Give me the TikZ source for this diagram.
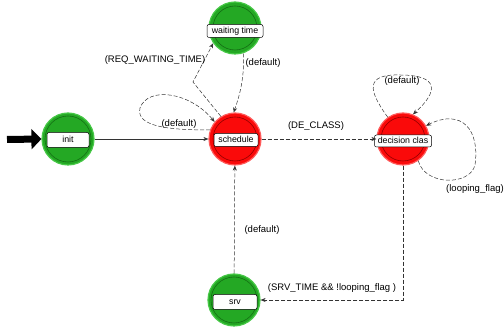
\documentclass[tikz,border=0pt]{standalone}
\usepackage{fontspec}
\setmainfont{Liberation Sans}
\usetikzlibrary{arrows.meta}
\definecolor{gfill}{RGB}{36,168,36}
\definecolor{gedge}{RGB}{70,200,70}
\definecolor{gring}{RGB}{20,110,20}
\definecolor{rfill}{RGB}{250,10,10}
\definecolor{redge}{RGB}{255,90,90}
\definecolor{rring}{RGB}{150,0,0}
\tikzset{
  gstate/.style={circle, minimum size=52pt, inner sep=0pt, fill=gfill, draw=gedge, line width=1.2pt},
  rstate/.style={circle, minimum size=52pt, inner sep=0pt, fill=rfill, draw=redge, line width=1.2pt},
  gin/.style={draw=gring, line width=0.6pt},
  rin/.style={draw=rring, line width=0.6pt},
  lbox/.style={draw=black, fill=white, rounded corners=2pt, inner sep=0pt, line width=0.5pt, font=\fontsize{8.8}{9}\selectfont, text height=6.5pt, text depth=1.8pt},
  tlab/.style={font=\fontsize{9.5}{10}\selectfont, inner sep=0pt},
  trans/.style={draw=black!80, line width=0.5pt, dash pattern=on 4pt off 2pt, -{Stealth[length=5pt,width=4pt]}},
  solidtrans/.style={draw=black!80, line width=0.5pt, -{Stealth[length=5pt,width=4pt]}},
}
\begin{document}
\begin{tikzpicture}[x=1pt,y=-1pt]
\useasboundingbox (0,0) rectangle (504,328);
% states
\node[gstate] (init) at (68,139) {};
\node[gstate] (wait) at (235,28) {};
\node[rstate] (sched) at (235,139) {};
\node[rstate] (dec) at (403,139) {};
\node[gstate] (srv) at (234,300) {};
\draw[gin] (init) circle (23);
\draw[gin] (wait) circle (22);
\draw[rin] (sched) circle (22);
\draw[rin] (dec) circle (22);
\draw[gin] (srv) circle (23);
% label boxes
\node[lbox, minimum width=42pt, minimum height=15pt] (initL) at (68,140) {init};
\node[lbox, minimum width=56pt, minimum height=13pt] (waitL) at (235,31) {waiting time};
\node[lbox, minimum width=44pt, minimum height=13pt] (schedL) at (236,140) {schedule};
\node[lbox, minimum width=57pt, minimum height=12pt] (decL) at (403,141) {decision clas};
\node[lbox, minimum width=44pt, minimum height=15pt] (srvL) at (235,302) {srv};
% entry arrow
\coordinate (entry) at (7,139.5);
\draw[line width=7pt, -{Triangle[length=10pt,width=20pt]}] (entry) -- (init.west);
% transitions
\draw[solidtrans] (init) -- (sched);
\draw[trans] (sched) -- (dec);
\node[tlab] (lDE) at (316,126) {(DE\_CLASS)};
% schedule self loop
\draw[trans] (sched.160) .. controls (175,130) and (135,128) .. (140,108)
  .. controls (148,86) and (190,92) .. (sched.140);
\node[tlab] (lSelf) at (179,124) {(default)};
% schedule -> waiting
\coordinate (kink) at (193,82);
\draw[trans] (sched.122) -- (kink) -- (wait.215);
\node[tlab] (lReq) at (155,60) {(REQ\_WAITING\_TIME)};
% waiting -> schedule
\draw[trans] (wait.-72) .. controls (245,80) and (238,100) .. (sched.93);
\node[tlab] (lWd) at (263,63) {(default)};
% decision self loop top
\draw[trans] (dec.125) .. controls (368,90) and (365,74) .. (400,75)
  .. controls (440,75) and (438,92) .. (dec.68);
\node[tlab] (lDd) at (402,81) {(default)};
% decision self loop right
\draw[trans] (dec.-55) .. controls (425,186) and (470,186) .. (475,165)
  .. controls (480,130) and (462,108) .. (dec.30);
\node[tlab] (lLoop) at (475,189) {(looping\_flag)};
% decision -> srv
\draw[trans] (dec.south) |- (srv.east);
\node[tlab] (lSrv) at (332,288) {(SRV\_TIME \&\& !looping\_flag )};
% srv -> schedule
\draw[trans] (srv) -- (sched);
\node[tlab] (lSd) at (262,230) {(default)};
\end{tikzpicture}
\end{document}
